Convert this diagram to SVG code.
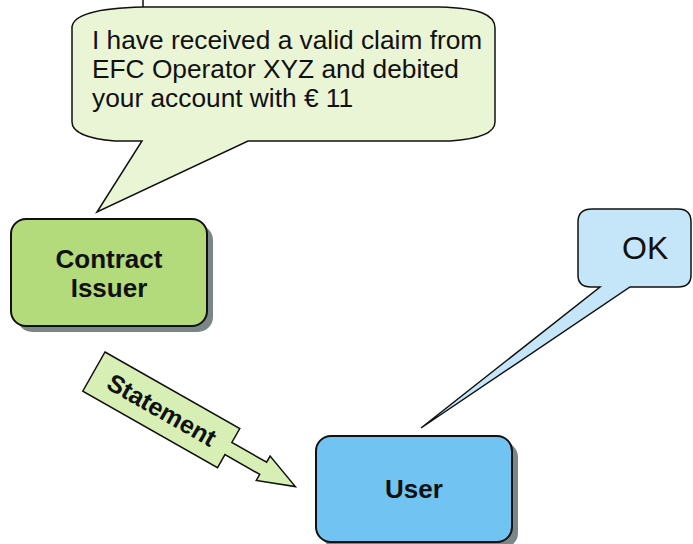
<svg xmlns="http://www.w3.org/2000/svg" width="693" height="544" viewBox="0 0 693 544">
<style>
.t{font-family:"Liberation Sans",Arial,sans-serif;fill:#111}
.b{font-weight:bold}
.ol{stroke:#111;stroke-width:1.5;stroke-linejoin:miter}
.box{stroke:#111;stroke-width:2}
.sh{fill:#7b8787}
</style>
<rect width="693" height="544" fill="#fff"/>
<line x1="143" y1="0" x2="143" y2="7" stroke="#111" stroke-width="1.5"/>
<g id="bubble-issuer">
<path class="ol" fill="#eaf5d6" d="M72 28 C72 14 100 8 143 7 L440 7 C480 8 495 15 495 28 L495 122 C495 133 480 139 450 141 L248 141 L97 212 L142 141 L115 141 C90 139 72 133 72 122 Z"/>
<text class="t" font-size="26.3" x="92" y="49">I have received a valid claim from</text>
<text class="t" font-size="26.3" x="92" y="78">EFC Operator XYZ and debited</text>
<text class="t" font-size="26.3" x="92" y="107">your account with € 11</text>
</g>
<g id="contract-issuer">
<rect class="sh" x="17" y="225" width="196" height="107" rx="15"/>
<rect class="box" x="11" y="219" width="196" height="107" rx="15" fill="#b3da7b"/>
<text class="t b" font-size="26" x="109" y="268" text-anchor="middle">Contract</text>
<text class="t b" font-size="26" x="109" y="297" text-anchor="middle">Issuer</text>
</g>
<g id="bubble-user">
<path class="ol" fill="#c5e5f8" d="M578 222 Q578 209 592 209 L678 209 Q691 209 691 222 L691 275 Q691 287 678 287 L630 287 L421 428 L600 287 L591 287 Q578 287 578 275 Z"/>
<text class="t" font-size="32" x="622" y="259">OK</text>
</g>
<g id="user">
<rect class="sh" x="322" y="442" width="196" height="106" rx="15"/>
<rect class="box" x="316" y="436" width="196" height="106" rx="15" fill="#71c3f1"/>
<text class="t b" font-size="26" x="414" y="498" text-anchor="middle">User</text>
</g>
<g id="connectors">
<g id="statement" transform="translate(105,352) rotate(29.6)">
<path class="ol" fill="#d7efb4" d="M0 0 L155 0 L155 16 L195 16 L195 9 L232 23 L195 37 L195 30 L155 30 L155 45 L0 45 Z"/>
<text class="t b" font-size="25" x="78" y="31" text-anchor="middle">Statement</text>
</g>
</g>
</svg>
